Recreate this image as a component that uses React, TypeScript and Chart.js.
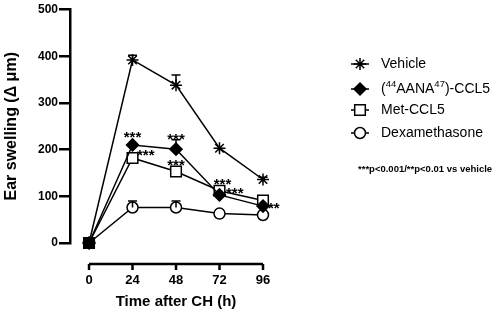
import React, { useEffect, useRef } from 'react';
import { Chart, registerables } from 'chart.js';

Chart.register(...registerables);

// ---- data ----
const times = [0, 24, 48, 72, 96];
const xTickLabels = ['0', '24', '48', '72', '96'];
const seriesNames = ['Vehicle', '(⁴⁴AANA⁴⁷)-CCL5', 'Met-CCL5', 'Dexamethasone'];
const vehicle = [0, 392, 338, 203, 136];
const vehicleErr = [0, 10, 22, 0, 5];
const aana = [0, 210, 201, 103, 79];
const aanaErr = [0, 0, 20, 0, 0];
const met = [0, 182, 153, 112, 91];
const metErr = [0, 0, 0, 0, 0];
const dex = [0, 76, 76, 63, 60];
const dexErr = [0, 14, 14, 0, 0];
const pointStyles = ['star', 'rectRot', 'rect', 'circle'];
// significance marks: series index, time index, text
const sigSeries = [1, 2, 1, 2, 1, 2, 1];
const sigIndex = [1, 1, 2, 2, 3, 3, 4];
const sigText = ['***', '***', '***', '***', '***', '***', '**'];
const footnote = '***p<0.001/**p<0.01 vs vehicle';
const xTitle = 'Time after CH (h)';
const yTitle = 'Ear swelling (Δ μm)';

const FONT = '"Liberation Sans", Arial, Helvetica, sans-serif';
const values = [vehicle, aana, met, dex];
const errors = [vehicleErr, aanaErr, metErr, dexErr];

// placement of significance marks relative to their point (px)
const sigDx = [0, 4.5, 0, 0, 3, 6.5, 5];
const sigDy = [-12, -7, -14, -10, -14, -1, -2];
const sigAlign: CanvasTextAlign[] = ['center', 'left', 'center', 'center', 'center', 'left', 'left'];

function drawMarker(ctx: CanvasRenderingContext2D, style: string, x: number, y: number, r: number, fill: string) {
  ctx.save();
  ctx.lineWidth = 1.5;
  ctx.strokeStyle = '#000';
  ctx.fillStyle = fill;
  ctx.beginPath();
  if (style === 'star') {
    for (let k = 0; k < 4; k++) {
      const a = (k * Math.PI) / 4;
      ctx.moveTo(x - Math.cos(a) * r, y - Math.sin(a) * r);
      ctx.lineTo(x + Math.cos(a) * r, y + Math.sin(a) * r);
    }
    ctx.stroke();
  } else if (style === 'rectRot') {
    ctx.moveTo(x, y - r);
    ctx.lineTo(x + r, y);
    ctx.lineTo(x, y + r);
    ctx.lineTo(x - r, y);
    ctx.closePath();
    ctx.fill();
    ctx.stroke();
  } else if (style === 'rect') {
    const s = r * Math.SQRT1_2;
    ctx.rect(x - s, y - s, 2 * s, 2 * s);
    ctx.fill();
    ctx.stroke();
  } else {
    ctx.arc(x, y, r, 0, Math.PI * 2);
    ctx.fill();
    ctx.stroke();
  }
  ctx.restore();
}

const supMap: Record<string, string> = { '⁰': '0', '¹': '1', '²': '2', '³': '3', '⁴': '4', '⁵': '5', '⁶': '6', '⁷': '7', '⁸': '8', '⁹': '9' };

function drawRichText(ctx: CanvasRenderingContext2D, text: string, x: number, y: number, size: number) {
  // split into normal / superscript runs
  const runs: { t: string; sup: boolean }[] = [];
  for (const ch of Array.from(text)) {
    const sup = ch in supMap;
    const c = sup ? supMap[ch] : ch;
    const last = runs[runs.length - 1];
    if (last && last.sup === sup) last.t += c;
    else runs.push({ t: c, sup });
  }
  let cx = x;
  ctx.textAlign = 'left';
  ctx.textBaseline = 'middle';
  for (const run of runs) {
    if (run.sup) {
      ctx.font = `${size * 0.68}px ${FONT}`;
      ctx.fillText(run.t, cx, y - size * 0.32);
    } else {
      ctx.font = `${size}px ${FONT}`;
      ctx.fillText(run.t, cx, y);
    }
    cx += ctx.measureText(run.t).width;
  }
}

const overlayPlugin = {
  id: 'overlay',
  afterDatasetsDraw(chart: any) {
    const ctx: CanvasRenderingContext2D = chart.ctx;
    const yScale = chart.scales.y;
    // error bars (upper)
    ctx.save();
    ctx.strokeStyle = '#000';
    ctx.lineWidth = 1.5;
    errors.forEach((errs, i) => {
      const meta = chart.getDatasetMeta(i);
      errs.forEach((e, j) => {
        if (!e) return;
        const pt = meta.data[j];
        const yTop = yScale.getPixelForValue(values[i][j] + e);
        ctx.beginPath();
        ctx.moveTo(pt.x, pt.y);
        ctx.lineTo(pt.x, yTop);
        ctx.moveTo(pt.x - 4.5, yTop);
        ctx.lineTo(pt.x + 4.5, yTop);
        ctx.stroke();
      });
    });
    ctx.restore();
  },
  afterDraw(chart: any) {
    const ctx: CanvasRenderingContext2D = chart.ctx;
    const xScale = chart.scales.x;
    const area = chart.chartArea;
    ctx.save();
    ctx.fillStyle = '#000';
    ctx.strokeStyle = '#000';

    // detached x axis line with ticks
    const axisY = area.bottom + 21;
    const x0 = xScale.getPixelForValue(times[0]);
    const x1 = xScale.getPixelForValue(times[times.length - 1]);
    ctx.lineWidth = 2.5;
    ctx.beginPath();
    ctx.moveTo(x0, axisY);
    ctx.lineTo(x1, axisY);
    times.forEach((t) => {
      const px = xScale.getPixelForValue(t);
      ctx.moveTo(px, axisY);
      ctx.lineTo(px, axisY + 6);
    });
    ctx.stroke();

    // x title
    ctx.font = `bold 15px ${FONT}`;
    ctx.textAlign = 'center';
    ctx.textBaseline = 'middle';
    ctx.fillText(xTitle, (x0 + x1) / 2, 302);

    // significance marks
    ctx.font = `bold 15px ${FONT}`;
    ctx.textBaseline = 'alphabetic';
    sigText.forEach((txt, k) => {
      const pt = chart.getDatasetMeta(sigSeries[k]).data[sigIndex[k]];
      ctx.textAlign = sigAlign[k];
      ctx.fillText(txt, pt.x + sigDx[k], pt.y + sigDy[k] + 8.6);
    });

    // legend
    const rowsY = [64, 89, 110, 133];
    seriesNames.forEach((name, i) => {
      const y = rowsY[i];
      ctx.lineWidth = 1.5;
      ctx.beginPath();
      ctx.moveTo(351, y);
      ctx.lineTo(369, y);
      ctx.stroke();
      drawMarker(ctx, pointStyles[i], 360, y, pointStyles[i] === 'rect' ? 7.5 : pointStyles[i] === 'circle' ? 5.5 : 6, pointStyles[i] === 'star' || pointStyles[i] === 'rectRot' ? '#000' : '#fff');
      ctx.fillStyle = '#000';
      drawRichText(ctx, name, 381, y, 14);
    });

    // footnote
    ctx.font = `bold 9.5px ${FONT}`;
    ctx.textAlign = 'left';
    ctx.textBaseline = 'middle';
    ctx.fillText(footnote, 358, 169);
    ctx.restore();
  },
};

export default function App() {
  const canvasRef = useRef<HTMLCanvasElement | null>(null);

  useEffect(() => {
    if (!canvasRef.current) return;
    Chart.defaults.font.family = FONT;
    const fills = ['#000', '#000', times.map((_, j) => (j === 0 ? '#000' : '#fff')), '#fff'];
    const radii = [6, 6, 7.5, 5.5];
    const chart = new Chart(canvasRef.current, {
      type: 'line',
      data: {
        datasets: values.map((vals, i) => ({
          label: seriesNames[i],
          data: times.map((t, j) => ({ x: t, y: vals[j] })),
          borderColor: '#000',
          borderWidth: 1.5,
          pointStyle: pointStyles[i] as any,
          pointRadius: radii[i],
          pointBorderWidth: 1.5,
          pointBorderColor: '#000',
          pointBackgroundColor: fills[i] as any,
          tension: 0,
          fill: false,
          clip: false as any,
        })),
      },
      options: {
        animation: false,
        responsive: false,
        devicePixelRatio: 1,
        layout: { padding: { top: 9.5, right: 235, left: 0, bottom: 0 } },
        plugins: {
          legend: { display: false },
          tooltip: { enabled: false },
        },
        scales: {
          x: {
            type: 'linear',
            min: -10.5,
            max: 96,
            afterBuildTicks: (s: any) => {
              s.ticks = times.map((v) => ({ value: v }));
            },
            afterFit: (s: any) => {
              s.height = 74;
            },
            ticks: {
              autoSkip: false,
              maxRotation: 0,
              padding: 30,
              color: '#000',
              font: { family: FONT, size: 13, weight: 'bold' },
              callback: (v: any) => {
                const k = times.indexOf(Number(v));
                return k >= 0 ? xTickLabels[k] : '';
              },
            },
            grid: { display: false, drawTicks: false },
            border: { display: false },
          },
          y: {
            min: 0,
            max: 500,
            afterFit: (s: any) => {
              s.width = 70;
            },
            ticks: {
              stepSize: 100,
              padding: 1,
              color: '#000',
              font: { family: FONT, size: 12, weight: 'bold' },
            },
            grid: { drawOnChartArea: false, drawTicks: true, tickLength: 11, color: '#000', lineWidth: 2.5 },
            border: { display: true, color: '#000', width: 2.5 },
            title: {
              display: true,
              text: yTitle,
              color: '#000',
              font: { family: FONT, size: 16, weight: 'bold' },
              padding: { top: 2, bottom: 0 },
            },
          },
        },
      },
      plugins: [overlayPlugin],
    });
    return () => chart.destroy();
  }, []);

  return (
    <div style={{ position: 'fixed', left: 0, top: 0, width: 498, height: 317, background: '#fff' }}>
      <canvas ref={canvasRef} width={498} height={317} style={{ display: 'block', width: 498, height: 317 }} />
    </div>
  );
}
